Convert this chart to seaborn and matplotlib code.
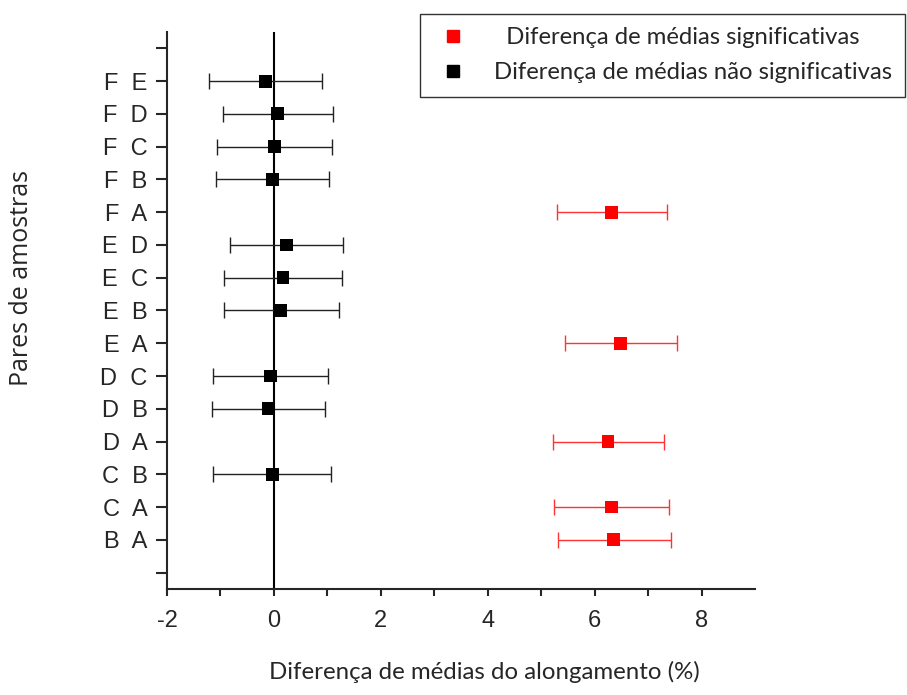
import numpy as np
import pandas as pd
import seaborn as sns
import matplotlib.pyplot as plt

# pairs from bottom to top, with centre and error-bar ends (%)
pairs = ["B  A", "C  A", "C  B", "D  A", "D  B", "D  C", "E  A", "E  B",
         "E  C", "E  D", "F  A", "F  B", "F  C", "F  D", "F  E"]
diff_mean = [6.36, 6.32, -0.02, 6.25, -0.10, -0.06, 6.49, 0.13,
             0.17, 0.24, 6.32, -0.02, 0.01, 0.07, -0.16]
diff_low = [5.31, 5.24, -1.14, 5.22, -1.15, -1.14, 5.44, -0.94,
            -0.93, -0.82, 5.29, -1.08, -1.07, -0.95, -1.21]
diff_high = [7.42, 7.40, 1.07, 7.29, 0.96, 1.02, 7.55, 1.22,
             1.28, 1.30, 7.36, 1.04, 1.09, 1.11, 0.90]
significant = [True, True, False, True, False, False, True, False,
               False, False, True, False, False, False, False]

lab_sig = "Diferença de médias significativas"
lab_ns = "Diferença de médias não significativas"

df = pd.DataFrame({"pair": pairs, "mean": diff_mean, "low": diff_low,
                   "high": diff_high, "sig": significant})
df["pos"] = np.arange(1, len(pairs) + 1)
df["grupo"] = np.where(df["sig"], lab_sig, lab_ns)

sns.set_style("ticks")
plt.rcParams["font.family"] = ["Liberation Sans", "DejaVu Sans"]
plt.rcParams["axes.unicode_minus"] = False

fig = plt.figure(figsize=(9.07, 6.95), dpi=100)
ax = fig.add_axes([0.1841, 0.1525, 0.6483, 0.8015])

ax.axvline(0, color="black", lw=1.5, zorder=1)

for sig, col, ecol in [(True, "#ff0000", "#ff3333"), (False, "black", "#222222")]:
    d = df[df["sig"] == sig]
    ax.errorbar(d["mean"], d["pos"],
                xerr=[d["mean"] - d["low"], d["high"] - d["mean"]],
                fmt="none", ecolor=ecol, elinewidth=1.0, capsize=6, capthick=1.0,
                zorder=2)

sns.scatterplot(data=df, x="mean", y="pos", hue="grupo",
                hue_order=[lab_sig, lab_ns],
                palette={lab_sig: "#ff0000", lab_ns: "black"},
                marker="s", s=85, edgecolor="none", ax=ax, zorder=3, legend=False)

ax.set_xlim(-2, 9)
ax.set_ylim(-0.5, 16.5)
ax.set_xticks([-2, 0, 2, 4, 6, 8])
ax.set_xticks(np.arange(-1, 9, 2), minor=True)
ax.set_yticks(np.arange(0, 17))
ax.set_yticklabels([""] + pairs + [""])

for s in ["top", "right"]:
    ax.spines[s].set_visible(False)
for s in ["left", "bottom"]:
    ax.spines[s].set_linewidth(1.5)

ax.tick_params(axis="y", length=8, width=1.5, pad=6, labelsize=17)
ax.tick_params(axis="x", which="both", length=5, width=1.5, pad=10, labelsize=17)

ax.set_xlabel("")
ax.set_ylabel("")
fig.text(0.534, 0.017, "Diferença de médias do alongamento (%)",
         family="Lato", fontsize=17.3, ha="center", va="bottom")
fig.text(0.024, 0.60, "Pares de amostras", family="Open Sans", fontsize=18,
         rotation=90, ha="center", va="center")

h1 = plt.Line2D([], [], marker="s", color="#ff0000", ls="none", markersize=9)
h2 = plt.Line2D([], [], marker="s", color="black", ls="none", markersize=9)
leg = fig.legend([h1, h2], ["  " + lab_sig, lab_ns],
                 loc="upper right", bbox_to_anchor=(0.998, 0.98),
                 borderaxespad=0,
                 prop={"family": "Lato", "size": 17.2}, frameon=True,
                 fancybox=False, borderpad=0.55, handletextpad=0.87,
                 labelspacing=0.6, handlelength=1.7)
leg.get_frame().set_edgecolor("black")
leg.get_frame().set_linewidth(1.0)

fig.savefig("out.png", dpi=100)
